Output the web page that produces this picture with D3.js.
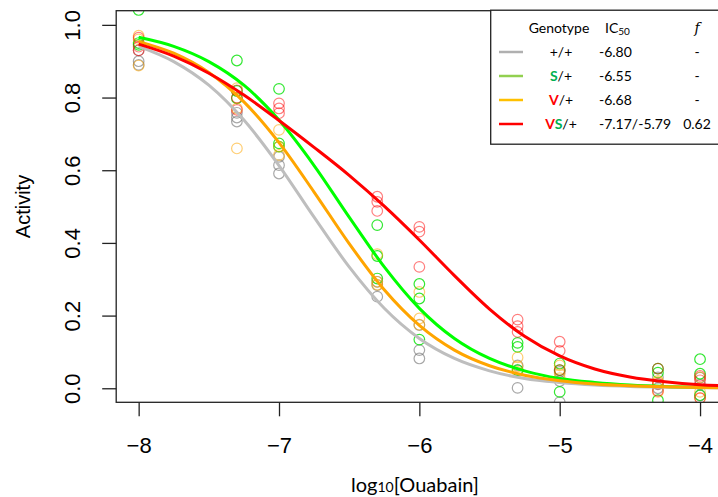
<!DOCTYPE html>
<html>
<head>
<meta charset="utf-8">
<script src="https://cdn.jsdelivr.net/npm/d3@7"></script>
<style>
  html, body { margin: 0; padding: 0; background: #fff; }
  svg { display: block; }
</style>
</head>
<body>
<script>
const width = 718;
const height = 497;

// doses (log10 M)
const conc = [-8, -7.3, -7, -6.3, -6, -5.3, -5, -4.3, -4];

// replicate activities per dose
const wildType = [
  [0.93, 0.90, 0.89], [0.758, 0.734, 0.745], [0.637, 0.614, 0.591],
  [0.293, 0.284, 0.252], [0.174, 0.105, 0.082], [0.063, 0.05, 0.001],
  [0.045, 0.02, -0.038], [0.03, 0.011, 0.0], [0.029, 0.01, -0.02]
];
const sHet = [
  [1.041, 0.95, 0.945], [0.902, 0.818, 0.798], [0.824, 0.674, 0.665],
  [0.449, 0.364, 0.302], [0.287, 0.247, 0.134], [0.125, 0.114, 0.05],
  [0.068, 0.05, -0.01], [0.054, 0.043, -0.033], [0.08, 0.04, -0.019]
];
const vHet = [
  [0.97, 0.96, 0.888], [0.826, 0.770, 0.660], [0.711, 0.665, 0.642],
  [0.369, 0.293, 0.285], [0.265, 0.192, 0.175], [0.085, 0.045, 0.06],
  [0.063, 0.039, 0.028], [0.017, -0.01, 0.02], [-0.01, -0.027, 0.03]
];
const vsHet = [
  [0.965, 0.94, 0.93], [0.82, 0.766, 0.80], [0.784, 0.770, 0.757],
  [0.527, 0.513, 0.488], [0.444, 0.431, 0.334], [0.189, 0.171, 0.155],
  [0.128, 0.103, 0.05], [0.054, -0.007, 0.013], [0.034, 0.022, -0.027]
];

// fitted curves, sampled along x
const curveX = [-8, -7.75, -7.5, -7.25, -7, -6.75, -6.5, -6.25, -6, -5.75,
  -5.5, -5.25, -5, -4.75, -4.5, -4.25, -4, -3.8];
const fitWildType = [0.941, 0.899, 0.834, 0.738, 0.613, 0.471, 0.334, 0.220,
  0.137, 0.082, 0.048, 0.027, 0.016, 0.009, 0.005, 0.003, 0.002, 0.001];
const fitS = [0.966, 0.941, 0.899, 0.834, 0.738, 0.613, 0.471, 0.334, 0.220,
  0.137, 0.082, 0.048, 0.027, 0.016, 0.009, 0.005, 0.003, 0.002];
const fitV = [0.954, 0.922, 0.869, 0.788, 0.676, 0.540, 0.398, 0.271, 0.173,
  0.105, 0.062, 0.036, 0.021, 0.012, 0.007, 0.004, 0.002, 0.001];
const fitVS = [0.947, 0.914, 0.867, 0.807, 0.737, 0.663, 0.586, 0.501, 0.408,
  0.310, 0.218, 0.143, 0.089, 0.053, 0.031, 0.018, 0.010, 0.007];

const xTicks = [-8, -7, -6, -5, -4];
const yTicks = [0, 0.2, 0.4, 0.6, 0.8, 1.0];

// legend table
const genotypes = [
  [{ t: '+/+' }],
  [{ t: 'S', c: '#00b050' }, { t: '/+' }],
  [{ t: 'V', c: '#ff0000' }, { t: '/+' }],
  [{ t: 'V', c: '#ff0000' }, { t: 'S', c: '#00b050' }, { t: '/+' }]
];
const ic50Labels = ['-6.80', '-6.55', '-6.68', '-7.17/-5.79'];
const fLabels = ['-', '-', '-', '0.62'];

const series = [
  { pts: wildType, fit: fitWildType, line: '#bebebe', dot: 'rgba(110,110,110,0.6)', key: '#b0b0b0' },
  { pts: sHet, fit: fitS, line: '#00ff00', dot: 'rgba(0,225,0,0.8)', key: '#92d050' },
  { pts: vHet, fit: fitV, line: '#ffa500', dot: 'rgba(255,165,0,0.55)', key: '#ffc000' },
  { pts: vsHet, fit: fitVS, line: '#ff0000', dot: 'rgba(255,0,0,0.5)', key: '#ff0000' }
];

const plot = { left: 116.2, right: 722.5, top: 10.7, bottom: 402.3 };

const x = d3.scaleLinear().domain([-8.16, -3.84]).range([plot.left, plot.right]);
const y = d3.scaleLinear().domain([-0.0386, 1.039]).range([plot.bottom, plot.top]);

const svg = d3.select('body').append('svg')
  .attr('width', width)
  .attr('height', height);

svg.append('defs').append('clipPath')
  .attr('id', 'plot-clip')
  .append('rect')
  .attr('x', plot.left)
  .attr('y', plot.top)
  .attr('width', plot.right - plot.left)
  .attr('height', plot.bottom - plot.top);

const inner = svg.append('g').attr('clip-path', 'url(#plot-clip)');

// points
series.forEach(s => {
  const flat = [];
  s.pts.forEach((reps, i) => reps.forEach(v => flat.push([conc[i], v])));
  inner.append('g')
    .selectAll('circle')
    .data(flat)
    .enter()
    .append('circle')
    .attr('cx', d => x(d[0]))
    .attr('cy', d => y(d[1]))
    .attr('r', 5.3)
    .attr('fill', 'none')
    .attr('stroke', s.dot)
    .attr('stroke-width', 1.2);
});

// fitted curves
const line = d3.line()
  .x((d, i) => x(curveX[i]))
  .y(d => y(d))
  .curve(d3.curveMonotoneX);

series.forEach(s => {
  inner.append('path')
    .attr('d', line(s.fit))
    .attr('fill', 'none')
    .attr('stroke', s.line)
    .attr('stroke-width', 3);
});

// axes
const xAxis = svg.append('g')
  .attr('transform', `translate(0,${plot.bottom})`)
  .call(d3.axisBottom(x).tickValues(xTicks).tickFormat(d3.format('d')).tickSize(14).tickPadding(21));
xAxis.select('.domain').remove();
xAxis.selectAll('line').attr('stroke', '#222').attr('stroke-width', 1.3);
xAxis.selectAll('text')
  .attr('font-family', '"Liberation Sans", Arial, sans-serif')
  .attr('font-size', 22)
  .attr('fill', '#000');

const yAxis = svg.append('g')
  .attr('transform', `translate(${plot.left},0)`)
  .call(d3.axisLeft(y).tickValues(yTicks).tickFormat(d3.format('.1f')).tickSize(14));
yAxis.select('.domain').remove();
yAxis.selectAll('line').attr('stroke', '#222').attr('stroke-width', 1.3);
yAxis.selectAll('text')
  .attr('x', null)
  .attr('dy', null)
  .attr('text-anchor', 'middle')
  .attr('transform', 'translate(-36,0) rotate(-90)')
  .attr('font-family', '"Liberation Sans", Arial, sans-serif')
  .attr('font-size', 22)
  .attr('fill', '#000');

// plot frame
svg.append('rect')
  .attr('x', plot.left)
  .attr('y', plot.top)
  .attr('width', plot.right - plot.left)
  .attr('height', plot.bottom - plot.top)
  .attr('fill', 'none')
  .attr('stroke', '#222')
  .attr('stroke-width', 1.3);

svg.append('text')
  .attr('transform', `translate(30,${(plot.top + plot.bottom) / 2}) rotate(-90)`)
  .attr('text-anchor', 'middle')
  .attr('font-family', '"Liberation Sans", Arial, sans-serif')
  .attr('font-size', 20)
  .text('Activity');

const xTitle = svg.append('text')
  .attr('x', 415)
  .attr('y', 492)
  .attr('text-anchor', 'middle')
  .attr('font-family', 'Lato, "Open Sans", sans-serif')
  .attr('font-size', 20);
xTitle.append('tspan').text('log');
xTitle.append('tspan').attr('font-size', 14).text('10');
xTitle.append('tspan').text('[Ouabain]');

// legend
const lg = svg.append('g').attr('font-family', 'Lato, "Open Sans", sans-serif').attr('font-size', 14);
lg.append('rect')
  .attr('x', 490.7)
  .attr('y', 10.2)
  .attr('width', 240)
  .attr('height', 134)
  .attr('fill', '#fff')
  .attr('stroke', '#222')
  .attr('stroke-width', 1.3);

lg.append('text').attr('x', 559).attr('y', 33).attr('text-anchor', 'middle').text('Genotype');
const icHead = lg.append('text').attr('x', 605).attr('y', 33);
icHead.append('tspan').text('IC');
icHead.append('tspan').attr('font-size', 10).attr('dy', 2).text('50');
lg.append('text').attr('x', 697).attr('y', 33).attr('text-anchor', 'middle')
  .attr('font-style', 'italic').attr('font-family', '"DejaVu Serif", serif').text('f');

const rowY = d3.scalePoint().domain(d3.range(genotypes.length)).range([52, 124]);

genotypes.forEach((parts, i) => {
  const cy = rowY(i);
  lg.append('line')
    .attr('x1', 499).attr('x2', 523)
    .attr('y1', cy).attr('y2', cy)
    .attr('stroke', series[i].key)
    .attr('stroke-width', 2.5);
  const t = lg.append('text').attr('x', 561).attr('y', cy + 5).attr('text-anchor', 'middle');
  parts.forEach(p => {
    t.append('tspan')
      .attr('fill', p.c || '#000')
      .attr('font-weight', p.c ? 'bold' : null)
      .text(p.t);
  });
  lg.append('text').attr('x', 599).attr('y', cy + 5).text(ic50Labels[i]);
  lg.append('text').attr('x', 697).attr('y', cy + 5).attr('text-anchor', 'middle').text(fLabels[i]);
});
</script>
</body>
</html>
